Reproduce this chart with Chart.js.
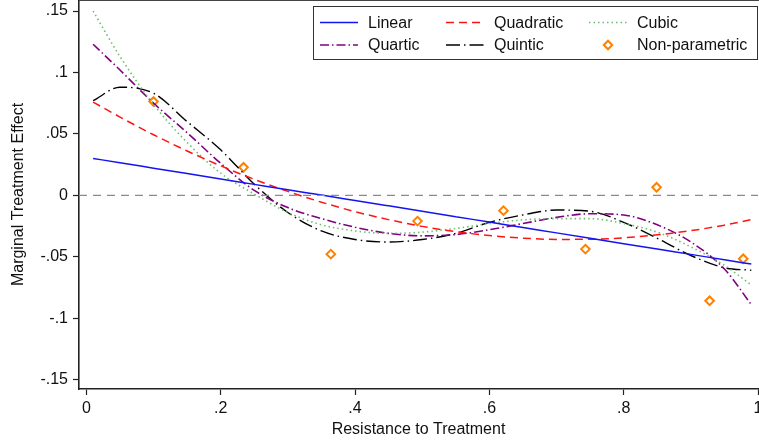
<!DOCTYPE html>
<html>
<head>
<meta charset="utf-8">
<script src="https://cdn.jsdelivr.net/npm/chart.js@4.4.1/dist/chart.umd.min.js"></script>
<style>
  html, body { margin: 0; padding: 0; background: #fff; }
  #wrap { width: 759px; height: 443px; }
</style>
</head>
<body>
<div id="wrap"><canvas id="mte"></canvas></div>
<script>
// evaluation grid (resistance to treatment)
const xGrid = [0.01, 0.05, 0.1, 0.15, 0.2, 0.25, 0.3, 0.35, 0.4, 0.45, 0.5,
               0.55, 0.6, 0.65, 0.7, 0.75, 0.8, 0.85, 0.9, 0.95, 0.99];

const linear    = [0.030, 0.0265, 0.0221, 0.0177, 0.0133, 0.0089, 0.0045, 0.0002, -0.0042, -0.0086, -0.0130,
                   -0.0174, -0.0218, -0.0262, -0.0306, -0.0350, -0.0394, -0.0438, -0.0481, -0.0525, -0.0560];
const quadratic = [0.0759, 0.0637, 0.0493, 0.0361, 0.0240, 0.0130, 0.0032, -0.0056, -0.0133, -0.0198, -0.0253,
                   -0.0296, -0.0328, -0.0349, -0.0359, -0.0358, -0.0346, -0.0322, -0.0288, -0.0243, -0.0198];
const cubic     = [0.150, 0.113, 0.074, 0.043, 0.018, 0.001, -0.014, -0.024, -0.029, -0.031, -0.030,
                   -0.027, -0.023, -0.020, -0.019, -0.019, -0.023, -0.030, -0.042, -0.057, -0.073];
const quartic   = [0.123, 0.102, 0.075, 0.051, 0.026, 0.004, -0.010, -0.019, -0.026, -0.031, -0.033,
                   -0.032, -0.028, -0.023, -0.018, -0.015, -0.016, -0.024, -0.038, -0.060, -0.089];
const quintic   = [0.077, 0.088, 0.083, 0.060, 0.037, 0.009, -0.014, -0.029, -0.036, -0.038, -0.036,
                   -0.031, -0.022, -0.016, -0.012, -0.013, -0.022, -0.035, -0.049, -0.059, -0.061];

// non-parametric estimates
const npX = [0.100, 0.234, 0.364, 0.493, 0.621, 0.743, 0.849, 0.928, 0.978];
const npY = [0.0763, 0.0228, -0.0479, -0.0210, -0.0125, -0.0438, 0.0065, -0.0859, -0.0517];

const seriesNames = ['Linear', 'Quadratic', 'Cubic', 'Quartic', 'Quintic', 'Non-parametric'];

const xTicks = [0, 0.2, 0.4, 0.6, 0.8, 1];
const xTickLabels = ['0', '.2', '.4', '.6', '.8', '1'];
const yTicks = [-0.15, -0.1, -0.05, 0, 0.05, 0.1, 0.15];
const yTickLabels = ['-.15', '-.1', '-.05', '0', '.05', '.1', '.15'];

const xMin = -0.011, xMax = 1.0;
const yMin = -0.1577, yMax = 0.159;

const FONT = "'Liberation Sans', Arial, Helvetica, sans-serif";
const pts = (ys) => ys.map((y, i) => ({ x: xGrid[i], y: y }));

function lineSet(label, ys, color, dash, width) {
    return {
        label: label,
        data: pts(ys),
        borderColor: color,
        borderWidth: width,
        borderDash: dash,
        pointRadius: 0,
        fill: false,
        cubicInterpolationMode: 'monotone',
    };
}

// no extra room for half tick labels at the edges
function noEdgePadding(s) {
    s.paddingTop = 0; s.paddingBottom = 0;
    s.paddingLeft = 0; s.paddingRight = 0;
}

// legend drawn as in the original: boxed, 2 rows x 3 columns
const boxLegend = {
    id: 'boxLegend',
    afterDraw(chart) {
        const ctx = chart.ctx;
        const sets = chart.data.datasets.filter(d => seriesNames.includes(d.label));
        const cols = [320, 446, 589];
        const rows = [22.5, 45];
        ctx.save();
        ctx.fillStyle = '#fff';
        ctx.fillRect(313, 6, 445, 54);
        ctx.strokeStyle = '#333';
        ctx.lineWidth = 1;
        ctx.strokeRect(313.5, 6.5, 444, 53);
        ctx.font = '16px ' + FONT;
        ctx.textBaseline = 'middle';
        sets.forEach((d, i) => {
            const cx = cols[i % 3], cy = rows[Math.floor(i / 3)];
            if (d.showLine === false) {
                ctx.save();
                ctx.translate(cx + 19, cy);
                ctx.rotate(Math.PI / 4);
                ctx.fillStyle = '#fff';
                ctx.strokeStyle = d.borderColor;
                ctx.lineWidth = d.borderWidth;
                ctx.fillRect(-3, -3, 6, 6);
                ctx.strokeRect(-3, -3, 6, 6);
                ctx.restore();
            } else {
                ctx.save();
                ctx.strokeStyle = d.borderColor;
                ctx.lineWidth = d.borderWidth;
                ctx.setLineDash(d.borderDash || []);
                ctx.beginPath();
                ctx.moveTo(cx, cy);
                ctx.lineTo(cx + 38, cy);
                ctx.stroke();
                ctx.restore();
            }
            ctx.fillStyle = '#111';
            ctx.fillText(d.label, cx + 48, cy + 1);
        });
        // top frame line
        ctx.strokeStyle = '#444';
        ctx.beginPath();
        ctx.moveTo(chart.chartArea.left, 0.5);
        ctx.lineTo(759, 0.5);
        ctx.stroke();
        ctx.restore();
    }
};

const ctx = document.getElementById('mte').getContext('2d');
const chart = new Chart(ctx, {
    type: 'line',
    data: {
        datasets: [
            {
                label: 'zero',
                data: [{ x: xMin, y: 0 }, { x: xMax, y: 0 }],
                borderColor: '#8c8c8c',
                borderWidth: 1.2,
                borderDash: [8, 6],
                pointRadius: 0,
            },
            lineSet(seriesNames[0], linear, 'rgb(20,20,240)', [], 1.5),
            lineSet(seriesNames[1], quadratic, 'rgb(255,20,20)', [8, 5], 1.5),
            lineSet(seriesNames[2], cubic, 'rgb(110,190,110)', [1.5, 3], 1.6),
            lineSet(seriesNames[3], quartic, 'rgb(128,0,128)', [9, 3, 1.5, 3], 1.6),
            lineSet(seriesNames[4], quintic, '#000', [14, 4, 1.5, 4], 1.4),
            {
                label: seriesNames[5],
                data: npX.map((x, i) => ({ x: x, y: npY[i] })),
                showLine: false,
                pointStyle: 'rectRot',
                pointRadius: 4.3,
                pointBorderWidth: 2,
                borderColor: 'rgb(255,128,0)',
                borderWidth: 2,
                pointBackgroundColor: '#fff',
                backgroundColor: '#fff',
            },
        ],
    },
    options: {
        responsive: true,
        maintainAspectRatio: false,
        animation: false,
        layout: { autoPadding: false, padding: { top: 0, right: 1, left: 0, bottom: 0 } },
        plugins: {
            legend: { display: false },
            tooltip: { enabled: false },
        },
        scales: {
            x: {
                type: 'linear',
                position: 'bottom',
                min: xMin,
                max: xMax,
                afterBuildTicks: (s) => { s.ticks = xTicks.map(v => ({ value: v })); },
                afterFit: (s) => { s.height = 54; noEdgePadding(s); },
                ticks: {
                    autoSkip: false,
                    maxRotation: 0,
                    padding: 4,
                    color: '#111',
                    font: { family: FONT, size: 16 },
                    callback: (v) => xTickLabels[xTicks.indexOf(v)],
                },
                grid: { drawOnChartArea: false, tickLength: 6, color: '#222', tickWidth: 1.2 },
                border: { display: true, color: '#222', width: 1.6 },
                title: {
                    display: true,
                    text: 'Resistance to Treatment',
                    color: '#111',
                    font: { family: FONT, size: 16 },
                    padding: { top: 0, bottom: 4 },
                },
            },
            y: {
                type: 'linear',
                min: yMin,
                max: yMax,
                afterBuildTicks: (s) => { s.ticks = yTicks.map(v => ({ value: v })); },
                afterFit: (s) => { s.width = 79; noEdgePadding(s); },
                ticks: {
                    autoSkip: false,
                    padding: 5,
                    color: '#111',
                    font: { family: FONT, size: 16 },
                    callback: (v) => yTickLabels[yTicks.indexOf(v)],
                },
                grid: { drawOnChartArea: false, tickLength: 6, color: '#222', tickWidth: 1.2 },
                border: { display: true, color: '#222', width: 1.6 },
                title: {
                    display: true,
                    text: 'Marginal Treatment Effect',
                    color: '#111',
                    font: { family: FONT, size: 16 },
                    padding: { top: 9, bottom: 0 },
                },
            },
        },
    },
    plugins: [boxLegend],
});
</script>
</body>
</html>
